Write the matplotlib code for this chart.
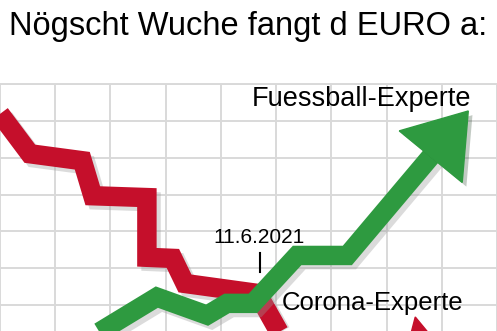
import matplotlib.pyplot as plt
import matplotlib.patheffects as pe

plt.rcParams['font.family'] = ['Liberation Sans', 'DejaVu Sans']

# Linienverlauf in Gitterkaestchen (x: Spalten, y: Zeilen)
red_x = [0.0, 0.54, 1.49, 1.68, 2.66, 2.66, 3.13, 3.35, 4.66, 5.10, 5.60, 7.00]
red_y = [5.19, 4.11, 3.92, 2.97, 2.92, 1.30, 1.27, 0.59, 0.32, -0.85, -1.10, -1.10]
red_head_x = [7.52, 7.95, 7.35]
red_head_y = [-0.32, -1.10, -1.30]

green_x = [1.50, 2.84, 3.75, 4.11, 4.58, 5.38, 6.29, 7.81]
green_y = [-1.00, 0.22, -0.27, 0.05, 0.05, 1.35, 1.35, 4.05]
green_head_x = [7.23, 8.48, 8.37]
green_head_y = [4.73, 5.27, 3.33]

red = '#c50f2b'
green = '#2e9a40'

fig = plt.figure(figsize=(4.97, 3.31), dpi=100)
ax = fig.add_axes([0, 0, 1, 0.746])
ax.set_xlim(0, 9)
ax.set_ylim(-0.7, 6)
ax.set_xticks(range(10))
ax.set_yticks(range(7))
ax.grid(True, color='#d9d9d9', linewidth=1.4)
ax.tick_params(length=0, labelbottom=False, labelleft=False)
for s in ax.spines.values():
    s.set_visible(False)
ax.spines['top'].set_visible(True)
ax.spines['top'].set_color('#d9d9d9')
ax.spines['top'].set_linewidth(1.4)

shadow = [pe.SimpleLineShadow(offset=(3, -3), shadow_color='#999999', alpha=0.35),
          pe.Normal()]

ax.plot(red_x, red_y, color=red, linewidth=14, solid_joinstyle='miter',
        solid_capstyle='butt', path_effects=shadow, zorder=3)
ax.fill(red_head_x, red_head_y, color=red, zorder=3)

ax.plot(green_x, green_y, color=green, linewidth=14, solid_joinstyle='miter',
        solid_capstyle='butt', path_effects=shadow, zorder=4)
ax.fill(green_head_x, green_head_y, color=green, zorder=4,
        path_effects=[pe.SimplePatchShadow(offset=(3, -3), alpha=0.25), pe.Normal()])

ax.text(4.56, 5.41, 'Fuessball-Experte', fontsize=19.5, va='baseline', zorder=5)
ax.text(5.11, -0.14, 'Corona-Experte', fontsize=18.5, va='baseline', zorder=5)
ax.text(4.69, 1.68, '11.6.2021', fontsize=15, ha='center', va='baseline', zorder=5)
ax.plot([4.71, 4.71], [1.41, 0.89], color='black', linewidth=1.5, zorder=5)

fig.text(0.5, 0.895, 'Nögscht Wuche fangt d EURO a:', fontsize=23.5,
         ha='center', va='baseline')

fig.savefig('out.png', dpi=100)
